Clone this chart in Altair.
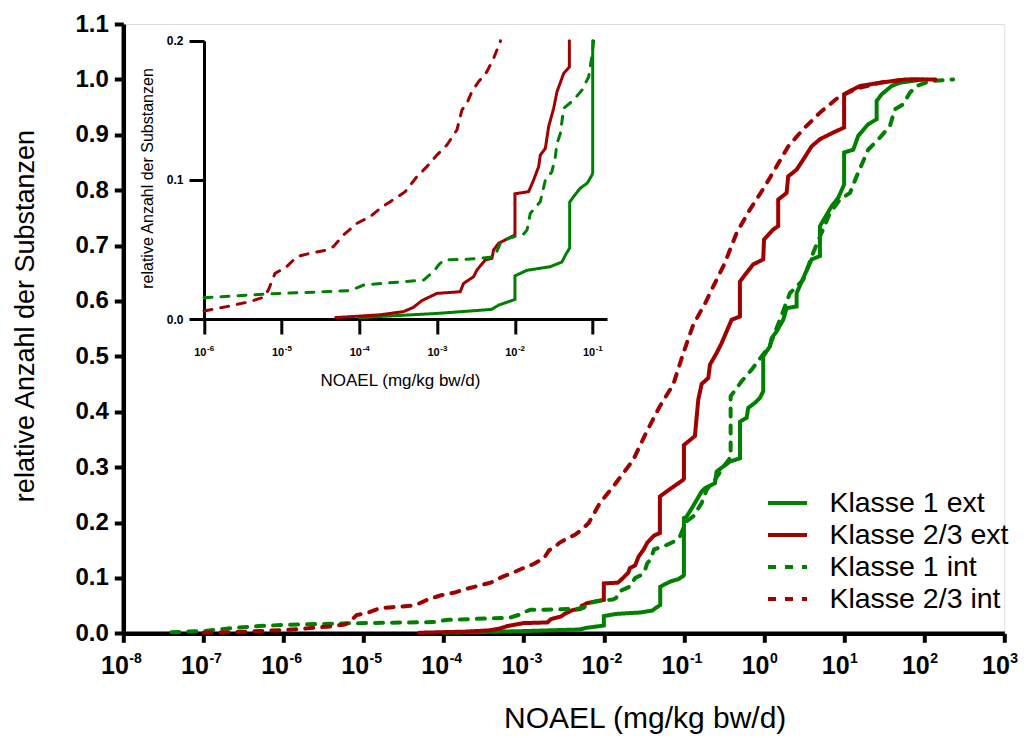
import altair as alt
import pandas as pd

# ---------------- data ----------------
SERIES = ["Klasse 1 ext", "Klasse 2/3 ext", "Klasse 1 int", "Klasse 2/3 int"]
COLORS = ["#008000", "#A00000", "#008000", "#A00000"]

# log10(NOAEL) and cumulative fraction
k1_ext_log = [-4.0, -3.0, -2.3, -2.21, -2.0, -2.0, -1.845, -1.545, -1.395, -1.35, -1.296, -1.296,
              -1.245, -1.16, -1.073, -1.008, -1.0, -1.0, -0.97, -0.888, -0.779, -0.738, -0.613,
              -0.592, -0.51, -0.426, -0.30, -0.30, -0.217, -0.197, -0.114, -0.051, -0.01, -0.01,
              0.074, 0.095, 0.157,
              0.24, 0.282, 0.407, 0.407, 0.51, 0.594, 0.698, 0.698, 0.844, 0.926, 1.0, 1.0, 1.114,
              1.176, 1.30, 1.406, 1.406, 1.468, 1.593, 1.697, 1.988]
k1_ext_y = [0.001, 0.004, 0.0069, 0.010, 0.014, 0.031, 0.035, 0.0376, 0.041, 0.046, 0.051, 0.084,
            0.088, 0.094, 0.0975, 0.1035, 0.105, 0.208, 0.21, 0.229, 0.256, 0.262, 0.271,
            0.292, 0.301, 0.310, 0.316, 0.382, 0.389, 0.407, 0.416, 0.425, 0.437, 0.50,
            0.518, 0.533, 0.545,
            0.566, 0.587, 0.590, 0.614, 0.648, 0.675, 0.681, 0.735, 0.771, 0.786, 0.81, 0.868, 0.873,
            0.898, 0.919, 0.928, 0.961, 0.973, 0.988, 0.994, 1.0]

k23_ext_log = [-4.305, -3.734, -3.433, -3.305, -3.197, -3.004, -2.704, -2.661, -2.532, -2.489,
               -2.382, -2.296, -2.275, -2.21, -2.0, -2.0, -1.824, -1.76, -1.695, -1.674, -1.609,
               -1.567, -1.502, -1.459, -1.373, -1.30, -1.30, -1.216, -1.009, -1.0, -1.0, -0.863,
               -0.821, -0.779, -0.696, -0.675, -0.592, -0.529, -0.467, -0.405, -0.301, -0.301,
               -0.217, -0.135, -0.01, 0.0, 0.115, 0.177, 0.177, 0.282, 0.302, 0.407, 0.489, 0.594,
               0.698, 0.781, 0.864, 1.0, 1.0, 1.073, 1.197, 1.447, 1.78, 2.03]
k23_ext_y = [0.001, 0.003, 0.0053, 0.0084, 0.0132, 0.0184, 0.0196, 0.0256, 0.0304, 0.0352,
             0.0424, 0.0436, 0.0496, 0.0544, 0.0604, 0.090, 0.0915, 0.0999, 0.1095, 0.1178, 0.1226,
             0.1382, 0.1514, 0.1634, 0.1765, 0.181, 0.247, 0.256, 0.277, 0.279, 0.340, 0.356,
             0.422, 0.45, 0.461, 0.485, 0.506, 0.524, 0.545, 0.566, 0.572, 0.635,
             0.651, 0.666, 0.675, 0.711, 0.729, 0.735, 0.783, 0.795, 0.825, 0.837, 0.855, 0.879,
             0.892, 0.898, 0.904, 0.913, 0.973, 0.979, 0.988, 0.994, 1.0, 1.0]

k1_int_log = [-7.4, -7.0, -6.6, -6.3, -6.0, -5.408, -5.193, -4.764, -4.12, -3.948, -3.691, -3.176,
              -3.047, -2.983, -2.918, -2.618, -2.318, -2.253, -2.189, -2.082, -1.888, -1.845,
              -1.803, -1.674, -1.609, -1.524, -1.481, -1.459, -1.416, -1.373, -1.245, -1.137,
              -1.051, -1.008, -0.987, -0.884, -0.779, -0.717, -0.613, -0.51, -0.417, -0.417,
              -0.28, -0.155, -0.03, 0.074, 0.198, 0.323, 0.489, 0.614, 0.719, 0.823, 0.948,
              1.073, 1.156, 1.30, 1.447, 1.572, 1.634, 1.738, 1.821, 1.905, 2.071, 2.362]
k1_int_y = [0.002, 0.004, 0.010, 0.013, 0.0153, 0.0172, 0.018, 0.0189, 0.0204, 0.0244, 0.0256, 0.028,
            0.034, 0.0388, 0.0424, 0.0429, 0.0443, 0.046, 0.0544, 0.058, 0.0611, 0.064,
            0.0759, 0.0843, 0.0999, 0.1059, 0.1166, 0.1262, 0.1334, 0.1514, 0.1574, 0.1646,
            0.1741, 0.1897, 0.2, 0.211, 0.235, 0.259, 0.277, 0.30, 0.318, 0.428,
            0.455, 0.476, 0.50, 0.52, 0.566, 0.614, 0.638, 0.687, 0.723, 0.759, 0.783,
            0.795, 0.825, 0.873, 0.895, 0.916, 0.946, 0.955, 0.976, 0.988, 0.997, 1.0]

k23_int_log = [-7.0, -6.6, -6.3, -6.0, -5.708, -5.408, -5.236, -5.172, -5.086, -4.936, -4.807,
               -4.635, -4.421, -4.335, -4.206, -4.034, -3.863, -3.734, -3.605, -3.412, -3.262,
               -3.133, -3.004, -2.876, -2.747, -2.682, -2.618, -2.554, -2.468, -2.361, -2.275,
               -2.189, -2.05, -1.883, -1.633, -1.466, -1.3, -1.134, -1.009, -0.884, -0.738,
               -0.675, -0.488, -0.342, -0.176, 0.011, 0.157, 0.302, 0.489, 0.698, 0.948, 1.197,
               1.488, 1.78, 2.196]
k23_int_y = [0.001, 0.002, 0.004, 0.0057, 0.0089, 0.0125, 0.0156, 0.0208, 0.0328, 0.0376, 0.0448,
             0.0472, 0.0496, 0.052, 0.0604, 0.0687, 0.0735, 0.0795, 0.0843, 0.0915, 0.1023,
             0.1095, 0.1178, 0.125, 0.1358, 0.1502, 0.155, 0.1634, 0.1705, 0.1777, 0.1873,
             0.1993, 0.235, 0.265, 0.313, 0.364, 0.41, 0.449, 0.505, 0.557, 0.595,
             0.614, 0.669, 0.723, 0.765, 0.807, 0.843, 0.879, 0.910, 0.940, 0.970, 0.985,
             0.995, 1.0, 1.0]

MAIN_TICKS = [1e-8, 1e-7, 1e-6, 1e-5, 1e-4, 1e-3, 1e-2, 1e-1, 1e0, 1e1, 1e2, 1e3]
MAIN_EXPONENTS = ["-8", "-7", "-6", "-5", "-4", "-3", "-2", "-1", "0", "1", "2", "3"]
INSET_TICKS = [1e-6, 1e-5, 1e-4, 1e-3, 1e-2, 1e-1]
INSET_EXPONENTS = ["-6", "-5", "-4", "-3", "-2", "-1"]
MAIN_Y_TICKS = [0.0, 0.1, 0.2, 0.3, 0.4, 0.5, 0.6, 0.7, 0.8, 0.9, 1.0, 1.1]
INSET_Y_TICKS = [0.0, 0.1, 0.2]
X_TITLE = "NOAEL (mg/kg bw/d)"
Y_TITLE = "relative Anzahl der Substanzen"

curves = {
    "Klasse 1 ext": (k1_ext_log, k1_ext_y),
    "Klasse 2/3 ext": (k23_ext_log, k23_ext_y),
    "Klasse 1 int": (k1_int_log, k1_int_y),
    "Klasse 2/3 int": (k23_int_log, k23_int_y),
}

# inset window (log10 x, y)
INSET_LX = (-6.0, -0.816)
INSET_Y = (0.0, 0.2)


def clip_polyline(lx, ys, x0, x1, y0, y1):
    out = []
    for i in range(len(lx) - 1):
        ax, ay, bx, by = lx[i], ys[i], lx[i + 1], ys[i + 1]
        dx, dy = bx - ax, by - ay
        t0, t1 = 0.0, 1.0
        ok = True
        for p, q in ((-dx, ax - x0), (dx, x1 - ax), (-dy, ay - y0), (dy, y1 - ay)):
            if p == 0:
                if q < 0:
                    ok = False
                    break
            else:
                t = q / p
                if p < 0:
                    if t > t1:
                        ok = False
                        break
                    t0 = max(t0, t)
                else:
                    if t < t0:
                        ok = False
                        break
                    t1 = min(t1, t)
        if not ok:
            continue
        p0 = (ax + t0 * dx, ay + t0 * dy)
        p1 = (ax + t1 * dx, ay + t1 * dy)
        if not out or out[-1] != p0:
            out.append(p0)
        out.append(p1)
    return out


main_rows, inset_rows = [], []
for name, (lx, ys) in curves.items():
    for i, (a, b) in enumerate(zip(lx, ys)):
        main_rows.append({"series": name, "x": 10 ** a, "y": b, "order": i})
    for i, (a, b) in enumerate(clip_polyline(lx, ys, INSET_LX[0], INSET_LX[1], INSET_Y[0], INSET_Y[1])):
        inset_rows.append({"series": name, "x": 10 ** a, "y": b, "order": i})

main_df = pd.DataFrame(main_rows)
inset_df = pd.DataFrame(inset_rows)
main_exp_df = pd.DataFrame({"x": MAIN_TICKS, "exp": MAIN_EXPONENTS})
inset_exp_df = pd.DataFrame({"x": INSET_TICKS, "exp": INSET_EXPONENTS})

# ---------------- layout constants (pixels) ----------------
FONT = "Liberation Sans"
LEFT, TOP = 123.3, 24.0
W, H = 881.0, 609.3

color_scale = alt.Scale(domain=SERIES, range=COLORS)
dash_scale = alt.Scale(domain=SERIES, range=[[1, 0], [1, 0], [8, 9], [8, 9]])

legend = alt.Legend(
    orient="none", legendX=642.7, legendY=464, symbolType="stroke", symbolSize=1521,
    symbolStrokeWidth=4, labelFontSize=28.5, labelFont=FONT, labelColor="black",
    labelOffset=20.4, rowPadding=2, clipHeight=30, padding=0, labelLimit=400,
)

main_x_axis = alt.Axis(values=MAIN_TICKS, labelExpr="'10'", labelFont=FONT,
                       labelFontWeight="bold", labelFontSize=25, labelColor="black",
                       labelAlign="right", labelOffset=5,
                       labelPadding=11, tickSize=9, tickWidth=4, tickColor="black",
                       domainWidth=4.5, domainColor="black", grid=False, labelFlush=False,
                       labelOverlap=False,
                       title=X_TITLE, titleFont=FONT, titleFontSize=30,
                       titleFontWeight="normal", titleColor="black", titleX=521.4,
                       titleY=94, titleBaseline="alphabetic", titleAlign="center")

main_lines = alt.Chart(main_df).mark_line(strokeWidth=4, strokeCap="round").encode(
    x=alt.X("x:Q", scale=alt.Scale(type="log", domain=[1e-8, 1e3]), axis=main_x_axis),
    y=alt.Y("y:Q",
            scale=alt.Scale(domain=[0, 1.1]),
            axis=alt.Axis(values=MAIN_Y_TICKS, format=".1f", labelFont=FONT,
                          labelFontWeight="bold", labelFontSize=24, labelColor="black",
                          labelPadding=6, tickSize=9, tickWidth=4, tickColor="black",
                          domainWidth=4.5, domainColor="black", grid=False,
                          title=Y_TITLE, titleFont=FONT,
                          titleFontSize=27, titleFontWeight="normal", titleColor="black",
                          titleX=-90, titleY=291.5, titleBaseline="alphabetic",
                          titleAlign="center", titleAngle=270)),
    color=alt.Color("series:N", scale=color_scale, legend=legend, title=None),
    strokeDash=alt.StrokeDash("series:N", scale=dash_scale, legend=legend, title=None),
    order=alt.Order("order:Q"),
)

main_exp = alt.Chart(main_exp_df).mark_text(
    font=FONT, fontWeight="bold", fontSize=14, align="left", baseline="top", dx=6,
    color="black",
).encode(
    x=alt.X("x:Q", axis=main_x_axis),
    y=alt.value(H + 19),
    text="exp:N",
)

main_layer = alt.layer(main_lines, main_exp)

inset_x_axis = alt.Axis(orient="bottom", offset=-314.3, values=INSET_TICKS,
                        labelExpr="'10'", labelFont=FONT, labelFontWeight="bold",
                        labelFontSize=11, labelColor="black", labelPadding=12,
                        labelAlign="right", labelOffset=2, tickSize=15,
                        tickWidth=3, tickColor="black", domainWidth=3, domainColor="black",
                        grid=False, labelFlush=False, labelOverlap=False,
                        title=X_TITLE, titleFont=FONT, titleFontSize=17,
                        titleFontWeight="normal", titleColor="black", titleX=276.7,
                        titleY=66.7, titleBaseline="alphabetic", titleAlign="center")
inset_x_scale = alt.Scale(type="log", domain=[1e-6, 10 ** INSET_LX[1]], range=[80.7, 483.7])

inset_lines = alt.Chart(inset_df).mark_line(strokeWidth=3, strokeCap="round").encode(
    x=alt.X("x:Q", scale=inset_x_scale, axis=inset_x_axis),
    y=alt.Y("y:Q",
            scale=alt.Scale(domain=[0, 0.2], range=[295.0, 16.7]),
            axis=alt.Axis(orient="left", offset=-80.7, values=INSET_Y_TICKS, format=".1f",
                          labelFont=FONT, labelFontWeight="bold", labelFontSize=12,
                          labelColor="black", labelPadding=6, tickSize=15, tickWidth=3,
                          tickColor="black", domainWidth=3, domainColor="black", grid=False,
                          title=Y_TITLE, titleFont=FONT,
                          titleFontSize=16, titleFontWeight="normal", titleColor="black",
                          titleX=-51.3, titleY=154, titleBaseline="alphabetic",
                          titleAlign="center", titleAngle=270)),
    color=alt.Color("series:N", scale=color_scale, legend=legend, title=None),
    strokeDash=alt.StrokeDash("series:N", scale=dash_scale, legend=legend, title=None),
    order=alt.Order("order:Q"),
)

inset_exp = alt.Chart(inset_exp_df).mark_text(
    font=FONT, fontWeight="bold", fontSize=8, align="left", baseline="top", dx=3,
    color="black",
).encode(
    x=alt.X("x:Q", scale=inset_x_scale, axis=inset_x_axis),
    y=alt.value(321.0),
    text="exp:N",
)

inset_layer = alt.layer(inset_lines, inset_exp)

chart = alt.layer(main_layer, inset_layer).resolve_scale(
    x="independent", y="independent"
).properties(
    width=W, height=H,
    padding={"left": LEFT, "top": TOP, "right": 1031 - LEFT - W, "bottom": 738 - TOP - H},
    autosize=alt.AutoSizeParams(type="none"),
    background="white",
).configure_view(stroke=None).configure(font=FONT)

chart.save("out.html", embed_options={"renderer": "svg", "actions": False})
